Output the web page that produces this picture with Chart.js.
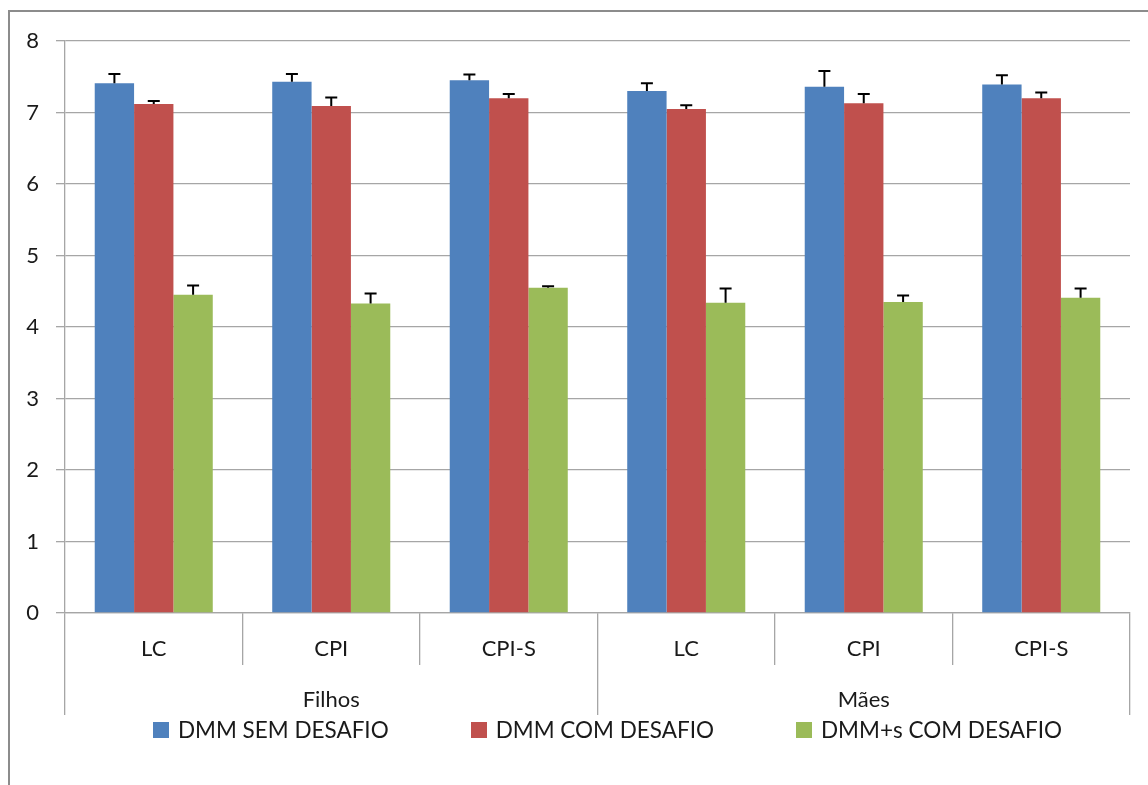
<!DOCTYPE html>
<html>
<head>
<meta charset="utf-8">
<script src="https://cdn.jsdelivr.net/npm/chart.js@4"></script>
<style>
    body { margin: 0; background: #fff; }
    #wrap { position: relative; width: 1148px; height: 785px; overflow: hidden; }
    #frame { position: absolute; left: 8px; top: 10px; width: 1200px; height: 800px;
             border-left: 2px solid #8c8c8c; border-top: 2px solid #8c8c8c; }
    #legend { position: absolute; left: 65px; width: 1085px; top: 716px;
              display: flex; justify-content: center; font-family: Lato, sans-serif;
              font-size: 22.5px; color: #1a1a1a; }
    .item { display: flex; align-items: center; margin: 0 41px; }
    .box { width: 16px; height: 16px; margin-right: 9px; }
</style>
</head>
<body>
<div id="wrap">
    <div id="frame"></div>
    <canvas id="chart"></canvas>
    <div id="legend"></div>
</div>
<script>
const categories = ["LC", "CPI", "CPI-S", "LC", "CPI", "CPI-S"];
const groups = ["Filhos", "Mães"];
const seriesNames = ["DMM SEM DESAFIO", "DMM COM DESAFIO", "DMM+s COM DESAFIO"];
const semDesafio = [7.41, 7.43, 7.45, 7.30, 7.36, 7.39];
const semDesafioErr = [0.13, 0.11, 0.08, 0.11, 0.22, 0.13];
const comDesafio = [7.12, 7.09, 7.20, 7.05, 7.13, 7.20];
const comDesafioErr = [0.04, 0.12, 0.06, 0.05, 0.13, 0.08];
const maisS = [4.45, 4.33, 4.55, 4.34, 4.35, 4.41];
const maisSErr = [0.13, 0.14, 0.02, 0.20, 0.09, 0.13];
const yTicks = [0, 1, 2, 3, 4, 5, 6, 7, 8];
const colors = ["#4F81BD", "#C0504D", "#9BBB59"];

const gridGray = "#a6a6a6";
const font = { family: "Lato, sans-serif", size: 22 };

// error bars (plus side only, like the original)
const errorBars = {
    id: "errorBars",
    afterDatasetsDraw(chart) {
        const ctx = chart.ctx;
        const yScale = chart.scales.y;
        ctx.save();
        ctx.strokeStyle = "#000";
        ctx.lineWidth = 2;
        chart.data.datasets.forEach((ds, di) => {
            const meta = chart.getDatasetMeta(di);
            meta.data.forEach((bar, i) => {
                const top = yScale.getPixelForValue(ds.data[i] + ds.errors[i]);
                ctx.beginPath();
                ctx.moveTo(bar.x, bar.y);
                ctx.lineTo(bar.x, top);
                ctx.moveTo(bar.x - 6, top);
                ctx.lineTo(bar.x + 6, top);
                ctx.stroke();
            });
        });
        ctx.restore();
    }
};

const chart = new Chart(document.getElementById("chart"), {
    type: "bar",
    data: {
        labels: categories,
        datasets: [
            { label: seriesNames[0], data: semDesafio, errors: semDesafioErr, backgroundColor: colors[0] },
            { label: seriesNames[1], data: comDesafio, errors: comDesafioErr, backgroundColor: colors[1] },
            { label: seriesNames[2], data: maisS, errors: maisSErr, backgroundColor: colors[2] }
        ]
    },
    options: {
        responsive: true,
        maintainAspectRatio: false,
        animation: false,
        categoryPercentage: 0.665,
        barPercentage: 1,
        layout: { padding: { left: 5, top: 41, right: 18, bottom: 70 } },
        plugins: { legend: { display: false }, tooltip: { enabled: false } },
        scales: {
            y: {
                min: 0, max: 8,
                afterBuildTicks: s => { s.ticks = yTicks.map(v => ({ value: v })); },
                afterFit: s => { s.width = 60; },
                ticks: { font: font, color: "#1a1a1a", padding: 17 },
                grid: { color: gridGray, tickLength: 9, lineWidth: 1.3 },
                border: { color: gridGray, width: 1.3 }
            },
            x: {
                afterFit: s => { s.height = 52; },
                ticks: { font: font, color: "#1a1a1a", padding: -29, maxRotation: 0 },
                grid: { offset: true, drawOnChartArea: false, tickLength: 52, color: gridGray, lineWidth: 1.3 },
                border: { color: gridGray, width: 1.3 }
            },
            x2: {
                type: "category",
                position: "bottom",
                labels: groups,
                afterFit: s => { s.height = 50; },
                ticks: { font: font, color: "#1a1a1a", padding: -28, maxRotation: 0 },
                grid: { offset: true, drawOnChartArea: false, tickLength: 50, color: gridGray, lineWidth: 1.3 },
                border: { display: false }
            }
        }
    },
    plugins: [errorBars]
});

// html legend built from the datasets
const legend = document.getElementById("legend");
chart.data.datasets.forEach(ds => {
    const item = document.createElement("div");
    item.className = "item";
    const box = document.createElement("span");
    box.className = "box";
    box.style.background = ds.backgroundColor;
    const text = document.createElement("span");
    text.textContent = ds.label;
    item.appendChild(box);
    item.appendChild(text);
    legend.appendChild(item);
});
</script>
</body>
</html>
